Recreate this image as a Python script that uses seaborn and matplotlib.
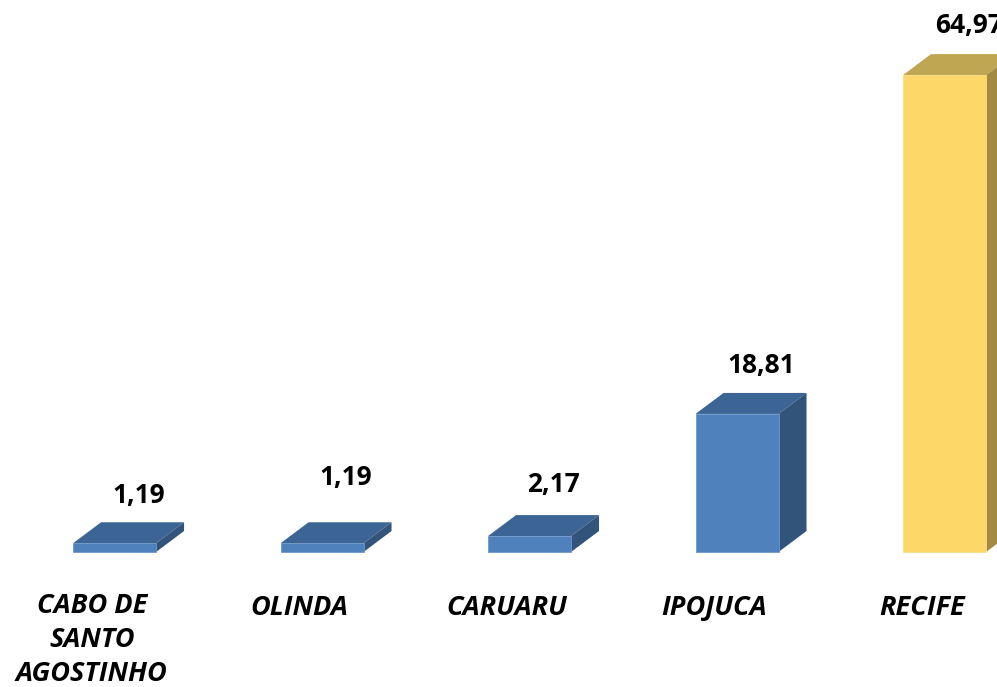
import matplotlib
matplotlib.use("Agg")
import matplotlib.pyplot as plt
import seaborn as sns
from matplotlib.patches import Polygon

categories = ["CABO DE\nSANTO\nAGOSTINHO", "OLINDA", "CARUARU", "IPOJUCA", "RECIFE"]
values = [1.19, 1.19, 2.17, 18.81, 64.97]
value_labels = ["1,19", "1,19", "2,17", "18,81", "64,97"]
label_nudge = [0.0, 2.4, 0.5, 0.0, 0.2]  # extra vertical nudge of value labels (data units)

front_cols = ["#4F81BD"] * 4 + ["#FDD868"]
edge_cols = ["#6E97C8"] * 4 + ["#F5DE8A"]
top_cols = ["#3C6595"] * 4 + ["#BFA652"]
side_cols = ["#32537A"] * 4 + ["#A38A42"]

sns.set_theme(style="white")
plt.rcParams["font.family"] = ["Open Sans", "DejaVu Sans"]

fig = plt.figure(figsize=(9.97, 6.87), dpi=100)
ax = fig.add_axes([0, 0, 1, 1])

sns.barplot(x=list(range(len(values))), y=values, hue=list(range(len(values))),
            palette=front_cols, saturation=1, width=0.4, legend=False, ax=ax,
            linewidth=0.6, zorder=3)

ax.set_xlim(-0.552, 4.253)
ax.set_ylim(-18.39, 75.2)
ax.axis("off")

dx, dy = 0.135, 2.86
for i, p in enumerate(ax.patches):
    p.set_edgecolor(edge_cols[i])
    x0 = p.get_x()
    w = p.get_width()
    h = p.get_height()
    x1 = x0 + w
    top = Polygon([(x0, h), (x1, h), (x1 + dx, h + dy), (x0 + dx, h + dy)],
                  closed=True, facecolor=top_cols[i], edgecolor="none", zorder=2)
    side = Polygon([(x1, 0), (x1 + dx, dy), (x1 + dx, h + dy), (x1, h)],
                   closed=True, facecolor=side_cols[i], edgecolor="none", zorder=2)
    ax.add_patch(top)
    ax.add_patch(side)
    cx = x0 + w / 2 + 0.116
    ax.text(cx, h + dy + 3.7 + label_nudge[i], value_labels[i], ha="center", va="center",
            fontsize=19, fontweight="bold", color="black", zorder=5)

for i, c in enumerate(categories):
    yc = -12.0 if "\n" in c else -7.6
    ax.text(i - 0.11, yc, c, ha="center", va="center", fontsize=19.5,
            fontweight="bold", fontstyle="italic", linespacing=1.4, color="black")

fig.savefig("out.png", dpi=100)
